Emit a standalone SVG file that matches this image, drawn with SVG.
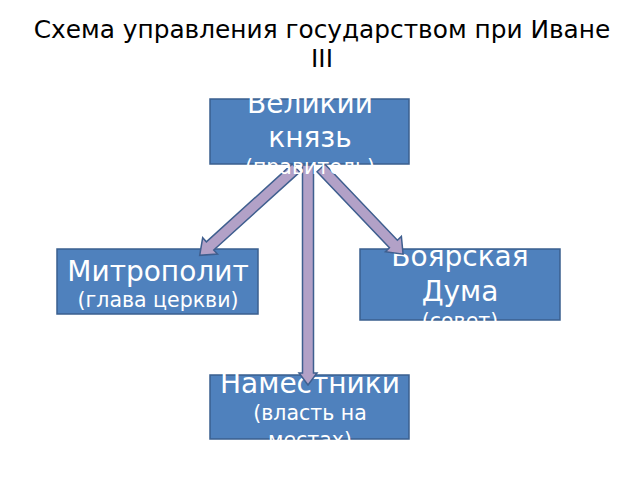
<svg xmlns="http://www.w3.org/2000/svg" width="640" height="480" viewBox="0 0 640 480">
<style>
.box{fill:#4f81bd;stroke:#3a5f8f;stroke-width:1.5}
.arr{fill:#b2a1c7;stroke:#3f5f8f;stroke-width:1.5;stroke-linejoin:miter}
.t{font-family:"DejaVu Sans",sans-serif;fill:#fff;text-anchor:middle}
.big{font-size:28px}
.sm{font-size:20.5px}
.title{font-family:"DejaVu Sans",sans-serif;font-size:24.8px;fill:#000;text-anchor:middle}
</style>
<rect width="640" height="480" fill="#fff"/>
<g id="title">
<text class="title" x="322" y="38">Схема управления государством при Иване</text>
<text class="title" x="322" y="67">III</text>
</g>
<g id="mitropolit">
<rect class="box" x="57" y="249" width="201" height="65"/>
<text class="t big" x="158" y="281">Митрополит</text>
<text class="t sm" x="158" y="307">(глава церкви)</text>
</g>
<g id="duma">
<rect class="box" x="360" y="249" width="200" height="71"/>
<text class="t big" x="460" y="266">Боярская</text>
<text class="t big" x="460" y="301">Дума</text>
<text class="t sm" x="460" y="328">(совет)</text>
</g>
<g id="namestniki">
<rect class="box" x="210" y="375" width="199" height="64"/>
<text class="t big" x="310" y="393">Наместники</text>
<text class="t sm" x="310" y="420">(власть на</text>
<text class="t sm" x="310" y="447">местах)</text>
</g>
<g id="connectors">
<polygon class="arr" transform="translate(296,168) rotate(137.8)" points="0,-5.5 116,-5.5 116,-11 130,0 116,11 116,5.5 0,5.5"/>
<polygon class="arr" transform="translate(321,168) rotate(46.4)" points="0,-5.5 105,-5.5 105,-11 119,0 105,11 105,5.5 0,5.5"/>
<polygon class="arr" transform="translate(308,165) rotate(90)" points="0,-5.5 208,-5.5 208,-9 220,0 208,9 208,5.5 0,5.5"/>
</g>
<g id="knyaz">
<rect class="box" x="210" y="99" width="199" height="65"/>
<text class="t big" x="310" y="113">Великий</text>
<text class="t big" x="310" y="147">князь</text>
<text class="t sm" x="310" y="174">(правитель)</text>
</g>
</svg>
